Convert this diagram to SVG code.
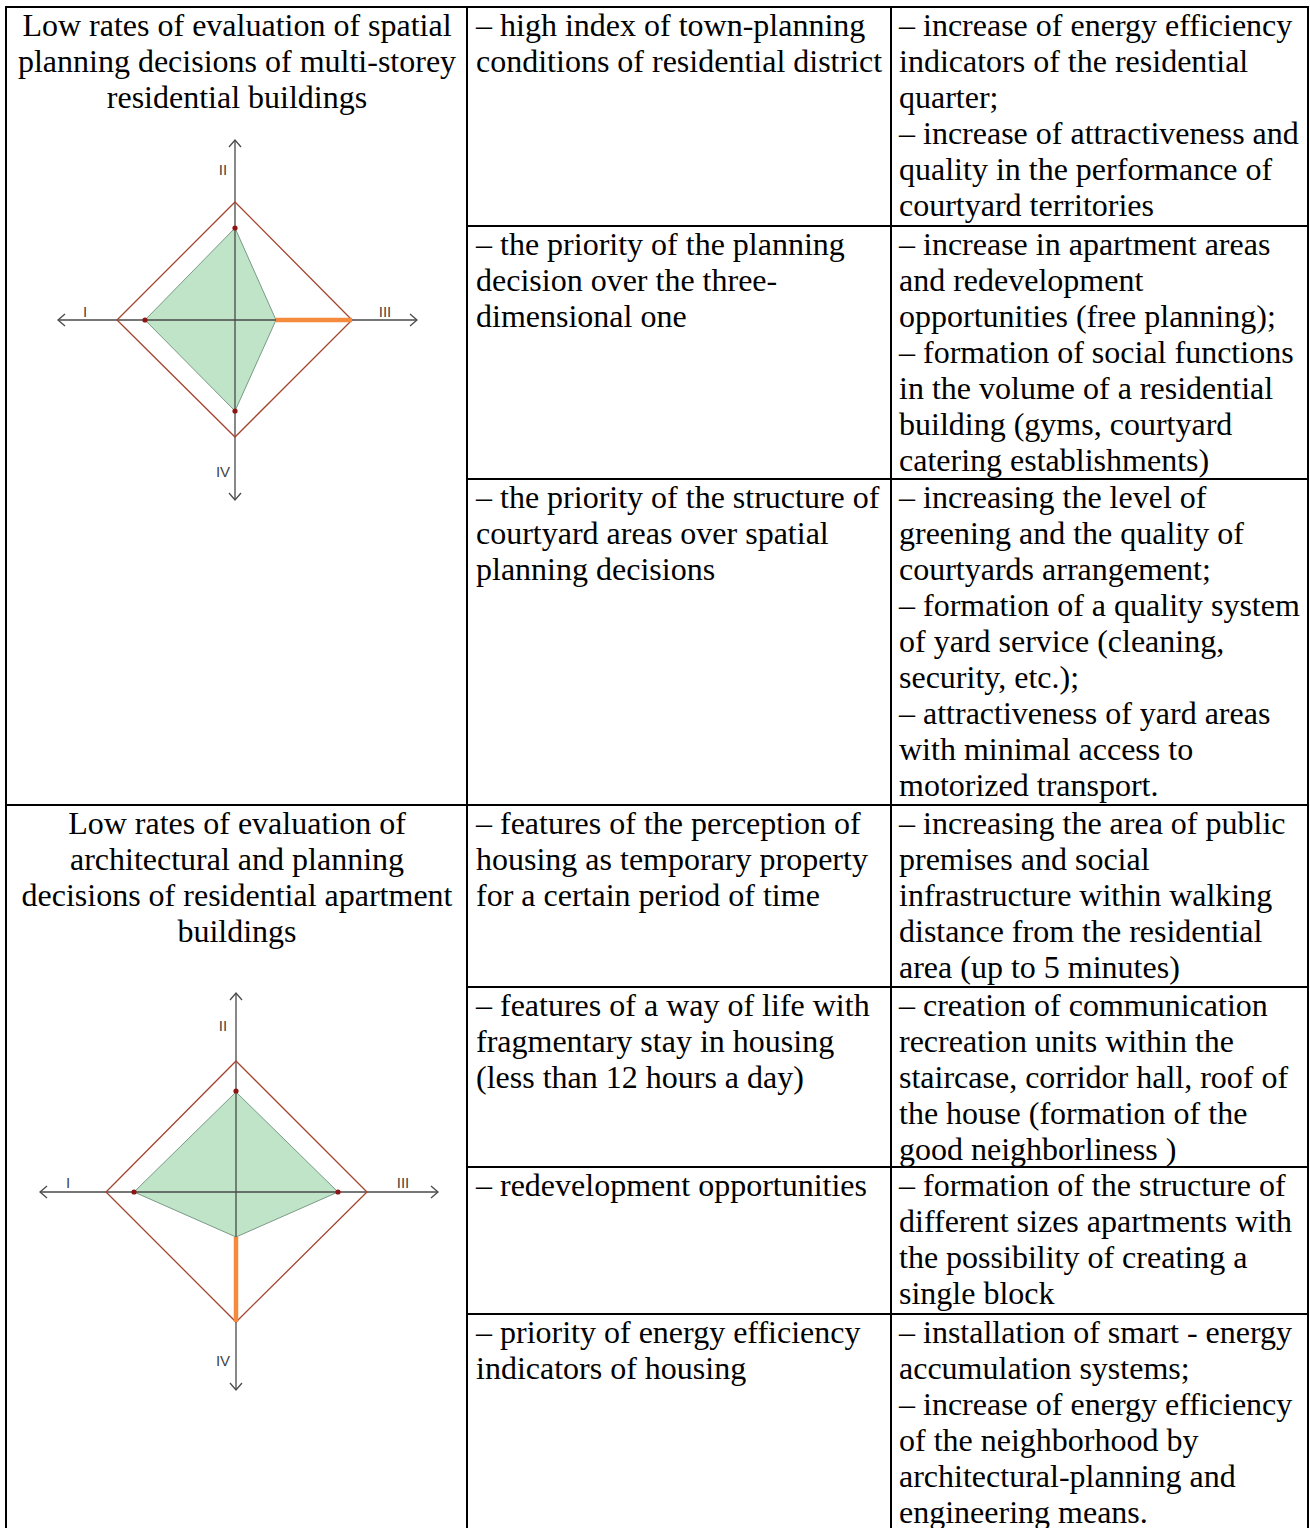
<svg xmlns="http://www.w3.org/2000/svg" width="1310" height="1528" viewBox="0 0 1310 1528">
<style>
.t{font-family:"Liberation Serif","Times New Roman",serif;font-size:32px;fill:#000}
.c{text-anchor:middle}
.grid{stroke:#000;stroke-width:2;fill:none}
.ax{stroke:#4a4a4a;stroke-width:1.3;fill:none}
.dia{stroke:#a4442f;stroke-width:1.3;fill:none}
.poly{fill:#bfe4c8;stroke:#7a9a85;stroke-width:1}
.hl{stroke:#f58a3c;stroke-width:4.5;stroke-linecap:butt}
.dot{fill:#8e1515}
.lab{font-family:"Liberation Sans",Arial,sans-serif;font-size:15px;fill:#444;text-anchor:middle}
</style>
<rect width="1310" height="1528" fill="#fff"/>
<g id="table-grid" class="grid">
<line x1="6" y1="7" x2="1308" y2="7"/>
<line x1="6" y1="6" x2="6" y2="1528"/>
<line x1="467" y1="6" x2="467" y2="1528"/>
<line x1="891" y1="6" x2="891" y2="1528"/>
<line x1="1308" y1="6" x2="1308" y2="1528"/>
<line x1="467" y1="226" x2="1308" y2="226"/>
<line x1="467" y1="479" x2="1308" y2="479"/>
<line x1="6" y1="805" x2="1308" y2="805"/>
<line x1="467" y1="987" x2="1308" y2="987"/>
<line x1="467" y1="1167" x2="1308" y2="1167"/>
<line x1="467" y1="1314" x2="1308" y2="1314"/>
</g>
<g id="cellA-title" class="t c">
<text x="237" y="36">Low rates of evaluation of spatial</text>
<text x="237" y="72">planning decisions of multi-storey</text>
<text x="237" y="108">residential buildings</text>
</g>
<g id="chartA">
<path class="poly" d="M235,228 L276,320 L235,411 L145,320 Z"/>
<path class="ax" d="M235,140 V500 M58,320 H417"/>
<path class="ax" d="M229,147 L235,140 L241,147 M229,493 L235,500 L241,493 M65,314 L58,320 L65,326 M410,314 L417,320 L410,326"/>
<path class="dia" d="M235,202 L352,320 L235,437 L117,320 Z"/>
<line class="hl" x1="276" y1="320" x2="352" y2="320"/>
<circle class="dot" cx="235" cy="228" r="2.6"/>
<circle class="dot" cx="145" cy="320" r="2.6"/>
<circle class="dot" cx="235" cy="411" r="2.6"/>
<text class="lab" x="223" y="175">II</text>
<text class="lab" x="85" y="317">I</text>
<text class="lab" x="385" y="317">III</text>
<text class="lab" x="223" y="477">IV</text>
</g>
<g id="cellB-title" class="t c">
<text x="237" y="834">Low rates of evaluation of</text>
<text x="237" y="870">architectural and planning</text>
<text x="237" y="906">decisions of residential apartment</text>
<text x="237" y="942">buildings</text>
</g>
<g id="chartB">
<path class="poly" d="M236,1092 L338,1192 L236,1237 L134,1192 Z"/>
<path class="ax" d="M236,993 V1390 M40,1192 H438"/>
<path class="ax" d="M230,1000 L236,993 L242,1000 M230,1383 L236,1390 L242,1383 M47,1186 L40,1192 L47,1198 M431,1186 L438,1192 L431,1198"/>
<path class="dia" d="M236,1061 L367,1192 L236,1322 L106,1192 Z"/>
<line class="hl" x1="236" y1="1237" x2="236" y2="1322"/>
<circle class="dot" cx="236" cy="1091" r="2.6"/>
<circle class="dot" cx="134" cy="1192" r="2.6"/>
<circle class="dot" cx="338" cy="1192" r="2.6"/>
<text class="lab" x="223" y="1031">II</text>
<text class="lab" x="68" y="1188">I</text>
<text class="lab" x="403" y="1188">III</text>
<text class="lab" x="223" y="1366">IV</text>
</g>
<g id="r1-factor" class="t">
<text x="476" y="36">– high index of town-planning</text>
<text x="476" y="72">conditions of residential district</text>
</g>
<g id="r1-measures" class="t">
<text x="899" y="36">– increase of energy efficiency</text>
<text x="899" y="72">indicators of the residential</text>
<text x="899" y="108">quarter;</text>
<text x="899" y="144">– increase of attractiveness and</text>
<text x="899" y="180">quality in the performance of</text>
<text x="899" y="216">courtyard territories</text>
</g>
<g id="r2-factor" class="t">
<text x="476" y="255">– the priority of the planning</text>
<text x="476" y="291">decision over the three-</text>
<text x="476" y="327">dimensional one</text>
</g>
<g id="r2-measures" class="t">
<text x="899" y="255">– increase in apartment areas</text>
<text x="899" y="291">and redevelopment</text>
<text x="899" y="327">opportunities (free planning);</text>
<text x="899" y="363">– formation of social functions</text>
<text x="899" y="399">in the volume of a residential</text>
<text x="899" y="435">building (gyms, courtyard</text>
<text x="899" y="471">catering establishments)</text>
</g>
<g id="r3-factor" class="t">
<text x="476" y="508">– the priority of the structure of</text>
<text x="476" y="544">courtyard areas over spatial</text>
<text x="476" y="580">planning decisions</text>
</g>
<g id="r3-measures" class="t">
<text x="899" y="508">– increasing the level of</text>
<text x="899" y="544">greening and the quality of</text>
<text x="899" y="580">courtyards arrangement;</text>
<text x="899" y="616">– formation of a quality system</text>
<text x="899" y="652">of yard service (cleaning,</text>
<text x="899" y="688">security, etc.);</text>
<text x="899" y="724">– attractiveness of yard areas</text>
<text x="899" y="760">with minimal access to</text>
<text x="899" y="796">motorized transport.</text>
</g>
<g id="r4-factor" class="t">
<text x="476" y="834">– features of the perception of</text>
<text x="476" y="870">housing as temporary property</text>
<text x="476" y="906">for a certain period of time</text>
</g>
<g id="r4-measures" class="t">
<text x="899" y="834">– increasing the area of public</text>
<text x="899" y="870">premises and social</text>
<text x="899" y="906">infrastructure within walking</text>
<text x="899" y="942">distance from the residential</text>
<text x="899" y="978">area (up to 5 minutes)</text>
</g>
<g id="r5-factor" class="t">
<text x="476" y="1016">– features of a way of life with</text>
<text x="476" y="1052">fragmentary stay in housing</text>
<text x="476" y="1088">(less than 12 hours a day)</text>
</g>
<g id="r5-measures" class="t">
<text x="899" y="1016">– creation of communication</text>
<text x="899" y="1052">recreation units within the</text>
<text x="899" y="1088">staircase, corridor hall, roof of</text>
<text x="899" y="1124">the house (formation of the</text>
<text x="899" y="1160">good neighborliness )</text>
</g>
<g id="r6-factor" class="t">
<text x="476" y="1196">– redevelopment opportunities</text>
</g>
<g id="r6-measures" class="t">
<text x="899" y="1196">– formation of the structure of</text>
<text x="899" y="1232">different sizes apartments with</text>
<text x="899" y="1268">the possibility of creating a</text>
<text x="899" y="1304">single block</text>
</g>
<g id="r7-factor" class="t">
<text x="476" y="1343">– priority of energy efficiency</text>
<text x="476" y="1379">indicators of housing</text>
</g>
<g id="r7-measures" class="t">
<text x="899" y="1343">– installation of smart - energy</text>
<text x="899" y="1379">accumulation systems;</text>
<text x="899" y="1415">– increase of energy efficiency</text>
<text x="899" y="1451">of the neighborhood by</text>
<text x="899" y="1487">architectural-planning and</text>
<text x="899" y="1523">engineering means.</text>
</g>
</svg>
